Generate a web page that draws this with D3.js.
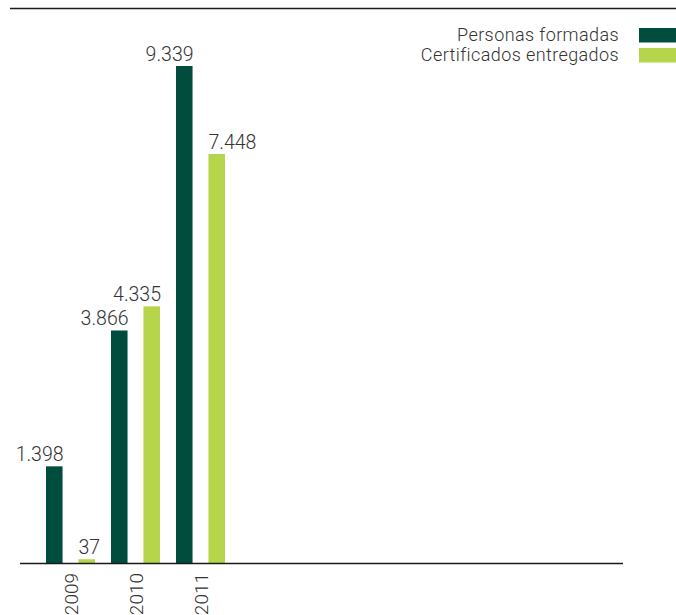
<!DOCTYPE html>
<html>
<head>
<meta charset="utf-8">
<script src="https://cdn.jsdelivr.net/npm/d3@7"></script>
<style>
  body { margin: 0; background: #fff; }
  text { font-family: Roboto, "Liberation Sans", sans-serif; font-weight: 300; fill: #333; }
</style>
</head>
<body>
<script>
// chart data
var years = ['2009', '2010', '2011'];
var seriesNames = ['Personas formadas', 'Certificados entregados'];
var personas = [1398, 3866, 9339];
var certificados = [37, 4335, 7448];

var colors = ['#004d3e', '#b6d54b'];

var width = 676,
    height = 615,
    baseline = 563.5;

// spanish number format 9.339
var es = d3.formatLocale({ decimal: ',', thousands: '.', grouping: [3], currency: ['', ' €'] });
var fmt = es.format(',d');

var rows = years.map(function(y, i) {
    return { year: y, values: [personas[i], certificados[i]] };
});

var svg = d3.select('body').append('svg')
    .attr('width', width)
    .attr('height', height);

// group scale and bar scale inside a group
var x0 = d3.scaleBand()
    .domain(years)
    .range([46, 225])
    .paddingInner(0.246);

var x1 = d3.scaleBand()
    .domain([0, 1])
    .range([0, x0.bandwidth()])
    .paddingInner(0.49);

// the original bars are not quite proportional, a soft power scale follows them
var y = d3.scalePow()
    .exponent(0.86)
    .domain([0, d3.max(personas)])
    .range([baseline, 66]);

// top rule
svg.append('line')
    .attr('x1', 10).attr('x2', width)
    .attr('y1', 8.5).attr('y2', 8.5)
    .attr('stroke', '#1a1a1a')
    .attr('stroke-width', 1.5);

var groups = svg.selectAll('g.year')
    .data(rows)
    .enter().append('g')
    .attr('class', 'year')
    .attr('transform', function(d) { return 'translate(' + x0(d.year) + ',0)'; });

var bars = groups.selectAll('g.bar')
    .data(function(d) {
        return d.values.map(function(v, k) { return { v: v, k: k, other: d.values[0] }; });
    })
    .enter().append('g')
    .attr('class', 'bar');

bars.append('rect')
    .attr('x', function(d) { return x1(d.k); })
    .attr('y', function(d) { return y(d.v); })
    .attr('width', x1.bandwidth())
    .attr('height', function(d) { return baseline - y(d.v); })
    .attr('fill', function(d) { return colors[d.k]; });

// labels sit right-aligned on the bar, unless the neighbouring bar is in the way
function clash(d) { return d.k === 1 && y(d.other) < y(d.v) - 25; }

bars.append('text')
    .attr('x', function(d) { return clash(d) ? x1(d.k) : x1(d.k) + x1.bandwidth() + 1; })
    .attr('y', function(d) { return y(d.v) - 5; })
    .attr('text-anchor', function(d) { return clash(d) ? 'start' : 'end'; })
    .style('font-size', '19.5px')
    .text(function(d) { return fmt(d.v); });

// baseline
svg.append('line')
    .attr('x1', 20).attr('x2', 623)
    .attr('y1', baseline).attr('y2', baseline)
    .attr('stroke', '#1a1a1a')
    .attr('stroke-width', 1.5);

// rotated year labels
svg.selectAll('text.yr')
    .data(years)
    .enter().append('text')
    .attr('class', 'yr')
    .attr('transform', function(d) {
        return 'translate(' + (x0(d) + x0.bandwidth() / 2 + 1) + ',573) rotate(-90)';
    })
    .attr('text-anchor', 'end')
    .attr('dy', '0.35em')
    .style('font-size', '19px')
    .text(function(d) { return d; });

// legend
var legend = svg.selectAll('g.legend')
    .data(seriesNames)
    .enter().append('g')
    .attr('class', 'legend')
    .attr('transform', function(d, i) { return 'translate(0,' + (28 + i * 20) + ')'; });

legend.append('rect')
    .attr('x', 639)
    .attr('width', 37)
    .attr('height', 14.5)
    .attr('fill', function(d, i) { return colors[i]; });

legend.append('text')
    .attr('x', 619)
    .attr('y', 12.5)
    .attr('text-anchor', 'end')
    .style('font-size', '18px')
    .style('letter-spacing', '0.4px')
    .text(function(d) { return d; });
</script>
</body>
</html>
